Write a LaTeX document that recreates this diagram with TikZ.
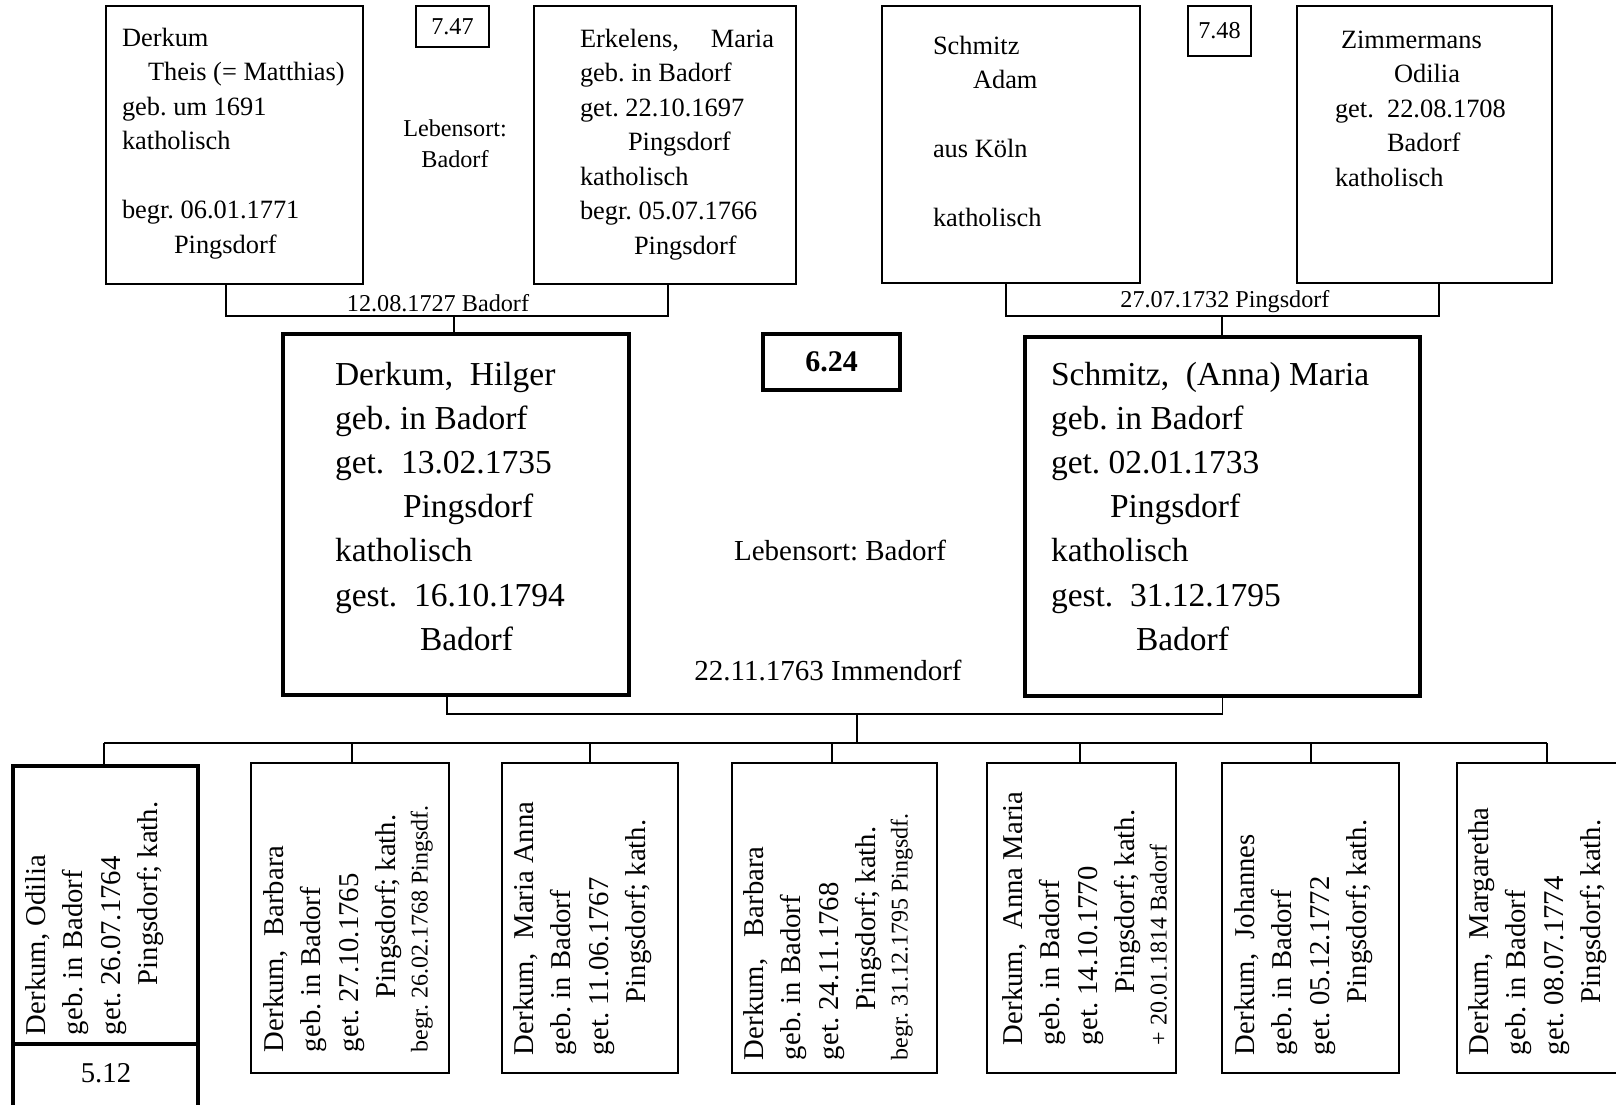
\documentclass[tikz,border=0pt]{standalone}
\usepackage{fontspec}
\setmainfont{Liberation Serif}
\frenchspacing
\newcommand\lines[1]{\begin{tabular}[t]{@{}l@{}}#1\end{tabular}}
\newcommand\clines[1]{\begin{tabular}[t]{@{}c@{}}#1\end{tabular}}
\newcommand\smallline{\fontsize{24}{28}\selectfont}
\begin{document}
\begin{tikzpicture}[x=1pt,y=-1pt,
  box/.style={draw, line width=1.7pt, inner sep=0pt, outer sep=0pt, anchor=north west},
  heavy/.style={box, line width=3.4pt},
  link/.style={line width=1.7pt},
  lbl/.style={inner sep=0pt, outer sep=0pt},
  ftop/.style={font=\fontsize{26.4}{34.5}\selectfont},
  fmid/.style={font=\fontsize{33.5}{44.2}\selectfont},
  fkid/.style={font=\fontsize{28.7}{37.5}\selectfont},
  fnote/.style={font=\fontsize{24.2}{31}\selectfont},
  fcap/.style={font=\fontsize{29}{35}\selectfont},
  kid/.style={lbl, fkid, rotate=90, anchor=base west}
]
\useasboundingbox (0,0) rectangle (1616,1104);
\clip (0,0) rectangle (1616,1104);
\fill[white] (0,0) rectangle (1616,1104);

% ---- grandparents ----
\node[box, minimum width=257pt, minimum height=278pt] (A) at (106,6) {};
\node[lbl, ftop, anchor=base west] (Atxt) at (122,46) {\lines{Derkum\\
  \hspace*{26pt}Theis (= Matthias)\\ geb. um 1691\\ katholisch\\ \\
  begr. 06.01.1771\\ \hspace*{52pt}Pingsdorf}};
\node[box, minimum width=73pt, minimum height=41pt, fnote] (n747) at (416,6) {7.47};
\node[lbl, fnote, anchor=base] (liveA) at (455,136) {\clines{Lebensort:\\Badorf}};
\node[box, minimum width=262pt, minimum height=278pt] (B) at (534,6) {};
\node[lbl, ftop, anchor=base west] (Btxt) at (580,47) {\lines{Erkelens,\hspace{32pt}Maria\\
  geb. in Badorf\\ get. 22.10.1697\\ \hspace*{48pt}Pingsdorf\\ katholisch\\
  begr. 05.07.1766\\ \hspace*{54pt}Pingsdorf}};

\node[box, minimum width=258pt, minimum height=277pt] (C) at (882,6) {};
\node[lbl, ftop, anchor=base west] (Ctxt) at (933,54) {\lines{Schmitz\\
  \hspace*{40pt}Adam\\ \\ aus Köln\\ \\ katholisch}};
\node[box, minimum width=63pt, minimum height=50pt, fnote] (n748) at (1188,6) {7.48};
\node[box, minimum width=255pt, minimum height=277pt] (D) at (1297,6) {};
\node[lbl, ftop, anchor=base west] (Dtxt) at (1335,48) {\lines{\hspace*{6pt}Zimmermans\\
  \hspace*{59pt}Odilia\\ get.\ \ 22.08.1708\\ \hspace*{52pt}Badorf\\ katholisch}};

% ---- parents ----
\node[heavy, minimum width=346pt, minimum height=361pt] (H) at (283,334) {};
\node[lbl, fmid, anchor=base west] (Htxt) at (335,385) {\lines{Derkum,\ \ Hilger\\
  geb. in Badorf\\ get.\ \ 13.02.1735\\ \hspace*{68pt}Pingsdorf\\ katholisch\\
  gest.\ \ 16.10.1794\\ \hspace*{85pt}Badorf}};
\node[heavy, minimum width=137pt, minimum height=56pt,
      font=\fontsize{30}{36}\selectfont\bfseries] (n624) at (763,334) {6.24};
\node[lbl, fcap, anchor=base] (liveH) at (840,560) {Lebensort: Badorf};
\node[lbl, fcap, anchor=base] (wedH) at (828,680) {22.11.1763 Immendorf};
\node[heavy, minimum width=395pt, minimum height=359pt] (M) at (1025,337) {};
\node[lbl, fmid, anchor=base west] (Mtxt) at (1051,385) {\lines{Schmitz,\ \ (Anna) Maria\\
  geb. in Badorf\\ get. 02.01.1733\\ \hspace*{59pt}Pingsdorf\\ katholisch\\
  gest.\ \ 31.12.1795\\ \hspace*{85pt}Badorf}};

% ---- marriages of the grandparents ----
\coordinate (mA) at (454,316);
\coordinate (mC) at (1222,316);
\draw[link] ([xshift=-8.5pt]A.south) |- (mA) -| ([xshift=3pt]B.south);
\draw[link] (mA) -- (mA |- H.north);
\node[lbl, fnote, anchor=base] (wedA) at (438,311) {12.08.1727 Badorf};
\draw[link] ([xshift=-5pt]C.south) |- (mC) -| ([xshift=14.5pt]D.south);
\draw[link] (mC) -- (mC |- M.north);
\node[lbl, fnote, anchor=base] (wedC) at (1225,307) {27.07.1732 Pingsdorf};

% ---- children ----
\node[heavy, minimum width=185pt, minimum height=278pt] (K1) at (13,766) {};
\node[heavy, minimum width=185pt, minimum height=100pt] (K1ref) at (13,1044) {};
\node[lbl, fkid, anchor=base] (K1num) at (106,1082) {5.12};
\node[box, minimum width=198pt, minimum height=310pt] (K2) at (251,763) {};
\node[box, minimum width=176pt, minimum height=310pt] (K3) at (502,763) {};
\node[box, minimum width=205pt, minimum height=310pt] (K4) at (732,763) {};
\node[box, minimum width=189pt, minimum height=310pt] (K5) at (987,763) {};
\node[box, minimum width=177pt, minimum height=310pt] (K6) at (1222,763) {};
\node[box, minimum width=200pt, minimum height=310pt] (K7) at (1457,763) {};

\node[kid] (K1txt) at (45,1035) {\lines{Derkum, Odilia\\ geb. in Badorf\\
  get. 26.07.1764\\ \hspace*{50pt}Pingsdorf; kath.}};
\node[kid] (K2txt) at (283,1052) {\lines{Derkum,\ \ Barbara\\ geb. in Badorf\\
  get. 27.10.1765\\ \hspace*{54pt}Pingsdorf; kath.\\[-5.5pt]
  {\smallline begr. 26.02.1768 Pingsdf.}}};
\node[kid] (K3txt) at (533,1055) {\lines{Derkum,\ \ Maria Anna\\ geb. in Badorf\\
  get. 11.06.1767\\ \hspace*{52pt}Pingsdorf; kath.}};
\node[kid] (K4txt) at (763,1060) {\lines{Derkum,\ \ \ Barbara\\ geb. in Badorf\\
  get. 24.11.1768\\ \hspace*{50pt}Pingsdorf; kath.\\[-5.5pt]
  {\smallline begr. 31.12.1795 Pingsdf.}}};
\node[kid] (K5txt) at (1022,1045) {\lines{Derkum,\ \ Anna Maria\\ geb. in Badorf\\
  get. 14.10.1770\\ \hspace*{52pt}Pingsdorf; kath.\\[-5.5pt]
  {\smallline + 20.01.1814 Badorf}}};
\node[kid] (K6txt) at (1254,1055) {\lines{Derkum,\ \ Johannes\\ geb. in Badorf\\
  get. 05.12.1772\\ \hspace*{52pt}Pingsdorf; kath.}};
\node[kid] (K7txt) at (1488,1055) {\lines{Derkum,\ \ Margaretha\\ geb. in Badorf\\
  get. 08.07.1774\\ \hspace*{52pt}Pingsdorf; kath.}};

% ---- marriage of the parents and descent line ----
\coordinate (mH) at (857,714);
\coordinate (rail) at (857,743);
\draw[link] ([xshift=-9pt]H.south) |- (mH) -| (M.south);
\draw[link] (mH) -- (rail);
\coordinate (c1) at (104,743);
\coordinate (c2) at (352,743);
\coordinate (c3) at (590,743);
\coordinate (c4) at (832,743);
\coordinate (c5) at (1080,743);
\coordinate (c6) at (1311,743);
\coordinate (c7) at (1547,743);
\draw[link] (c1) -- (c7);
\foreach \i in {1,...,7} \draw[link] (c\i) -- (c\i |- K\i.north);
\end{tikzpicture}
\end{document}
